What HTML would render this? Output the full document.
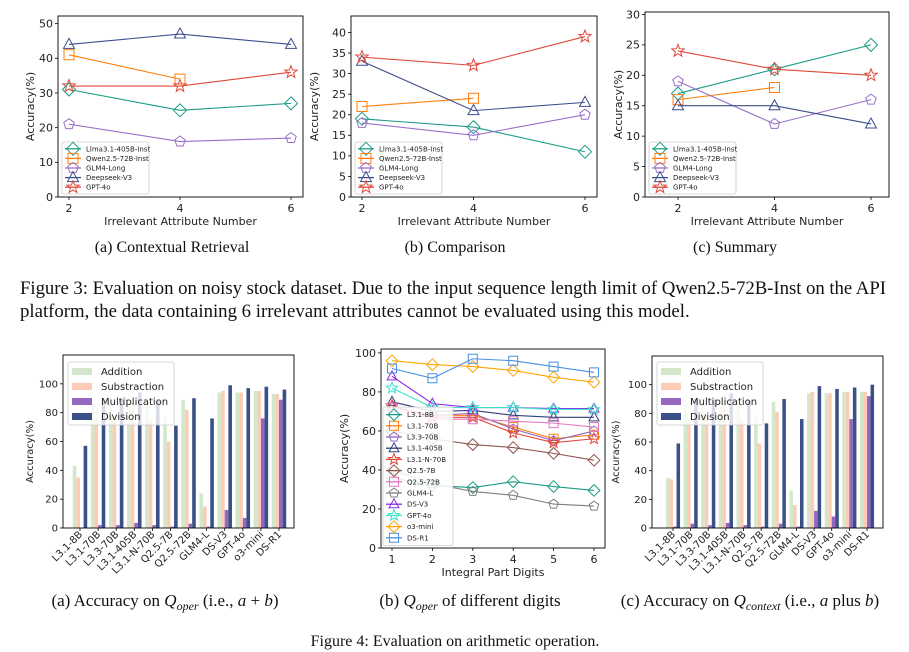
<!DOCTYPE html>
<html><head><meta charset="utf-8"><style>
body{margin:0;background:#fff}
svg{display:block}
text{font-family:"DejaVu Sans","Liberation Sans",sans-serif;fill:#222}
.cap{font-family:"Liberation Serif",serif;font-size:16px;fill:#111}
.cap3{font-family:"Liberation Serif",serif;font-size:18.8px;fill:#111}
.cap4{font-family:"Liberation Serif",serif;font-size:17px;fill:#111}
</style></head><body>
<svg id="s" width="909" height="652" viewBox="0 0 909 652">
<text class="cap" x="172" y="252" text-anchor="middle">(a) Contextual Retrieval</text>
<text class="cap" x="455" y="252" text-anchor="middle">(b) Comparison</text>
<text class="cap" x="735" y="252" text-anchor="middle">(c) Summary</text>
<text class="cap3" x="20" y="294" textLength="866" lengthAdjust="spacing">Figure 3: Evaluation on noisy stock dataset. Due to the input sequence length limit of Qwen2.5-72B-Inst on the API</text>
<text class="cap3" x="20" y="317">platform, the data containing 6 irrelevant attributes cannot be evaluated using this model.</text>
<text class="cap4" x="165" y="606" text-anchor="middle">(a) Accuracy on <tspan font-style="italic">Q</tspan><tspan font-size="12" dy="4" font-style="italic">oper</tspan><tspan dy="-4"> (i.e., </tspan><tspan font-style="italic">a</tspan> + <tspan font-style="italic">b</tspan>)</text>
<text class="cap4" x="470" y="606" text-anchor="middle">(b)  <tspan font-style="italic">Q</tspan><tspan font-size="12" dy="4" font-style="italic">oper</tspan><tspan dy="-4"> of different digits</tspan></text>
<text class="cap4" x="750" y="606" text-anchor="middle">(c) Accuracy on <tspan font-style="italic">Q</tspan><tspan font-size="12" dy="4" font-style="italic">context</tspan><tspan dy="-4"> (i.e., </tspan><tspan font-style="italic">a</tspan> plus <tspan font-style="italic">b</tspan>)</text>
<text class="cap" x="455" y="646" text-anchor="middle">Figure 4: Evaluation on arithmetic operation.</text>
</svg>
<script>
// ---- Figure 3 data ----
const topX = [2, 4, 6];
const topNames = ["Llma3.1-405B-Inst","Qwen2.5-72B-Inst","GLM4-Long","Deepseek-V3","GPT-4o"];
const retLlama = [31, 25, 27];
const retQwen = [41, 34];
const retGLM = [21, 16, 17];
const retDS = [44, 47, 44];
const retGPT = [32, 32, 36];
const cmpLlama = [19, 17, 11];
const cmpQwen = [22, 24];
const cmpGLM = [18, 15, 20];
const cmpDS = [33, 21, 23];
const cmpGPT = [34, 32, 39];
const sumLlama = [17, 21, 25];
const sumQwen = [16, 18];
const sumGLM = [19, 12, 16];
const sumDS = [15, 15, 12];
const sumGPT = [24, 21, 20];
const retTicks = [0, 10, 20, 30, 40, 50];
const cmpTicks = [0, 5, 10, 15, 20, 25, 30, 35, 40];
const sumTicks = [0, 5, 10, 15, 20, 25, 30];
// ---- Figure 4 data ----
const barCats = ["L3.1-8B","L3.1-70B","L3.3-70B","L3.1-405B","L3.1-N-70B","Q2.5-7B","Q2.5-72B","GLM4-L","DS-V3","GPT-4o","o3-mini","DS-R1"];
const barSeries = ["Addition","Substraction","Multiplication","Division"];
const operAdd = [43, 87, 86, 85, 85, 77, 89, 24, 94, 94, 95, 93];
const operSub = [35, 77, 77, 87, 75, 60, 82, 15, 95, 94, 95, 93];
const operMul = [0, 2, 2, 3.5, 2, 1, 3, 1, 12.5, 7, 76, 89];
const operDiv = [57, 89, 89, 94, 88, 71, 90, 76, 99, 97, 98, 96];
const ctxAdd = [35, 87, 86, 85, 85, 79, 88, 26, 94, 94, 95, 95];
const ctxSub = [34, 76, 77, 87, 75, 59, 81, 16, 95, 94, 95, 95];
const ctxMul = [1, 3, 2, 3.5, 2, 1, 3, 1, 12, 8, 76, 92];
const ctxDiv = [59, 90, 89, 94, 89, 73, 90, 76, 99, 97, 98, 100];
const barTicks = [0, 20, 40, 60, 80, 100];
const digitX = [1, 2, 3, 4, 5, 6];
const digitNames = ["L3.1-8B","L3.1-70B","L3.3-70B","L3.1-405B","L3.1-N-70B","Q2.5-7B","Q2.5-72B","GLM4-L","DS-V3","GPT-4o","o3-mini","DS-R1"];
const dL318 = [36, 32, 31, 34, 31.5, 29.5];
const dL3170 = [72, 68, 68, 62, 56, 58];
const dL3370 = [72, 68, 69, 61, 55, 60];
const dL31405 = [75, 70, 70.5, 68, 67, 67];
const dL31N70 = [73, 67, 67, 59, 54, 56];
const dQ7 = [60, 56, 53, 51.5, 48.5, 45];
const dQ72 = [72, 66, 66, 65, 64, 62];
const dGLM = [40, 33, 29, 27, 22.5, 21.5];
const dDSV3 = [88, 74, 72, 72, 71.5, 71.5];
const dGPT = [82, 72, 72, 72, 71, 71];
const dO3 = [96, 94, 93, 91, 87.5, 85];
const dDSR1 = [92, 87, 97, 96, 93, 90];
const digitTicks = [0, 20, 40, 60, 80, 100];

const NS = "http://www.w3.org/2000/svg";
const svg = document.getElementById("s");
function mk(tag, attrs, parent) {
  const e = document.createElementNS(NS, tag);
  for (const k in attrs) e.setAttribute(k, attrs[k]);
  (parent || svg).appendChild(e);
  return e;
}
function marker(g, shape, x, y, r, color) {
  let pts = [];
  if (shape === "diamond") pts = [[0,-r*1.3],[r*1.3,0],[0,r*1.3],[-r*1.3,0]];
  else if (shape === "square") pts = [[-r,-r],[r,-r],[r,r],[-r,r]];
  else if (shape === "triangle") pts = [[0,-r*1.2],[r*1.1,r*0.8],[-r*1.1,r*0.8]];
  else if (shape === "pentagon") { for (let i=0;i<5;i++){const a=-Math.PI/2+i*2*Math.PI/5; pts.push([r*1.1*Math.cos(a), r*1.1*Math.sin(a)]);} }
  else if (shape === "star") { for (let i=0;i<10;i++){const a=-Math.PI/2+i*Math.PI/5; const rr=i%2?r*0.55:r*1.3; pts.push([rr*Math.cos(a), rr*Math.sin(a)]);} }
  const p = mk("polygon", {points: pts.map(q=>(x+q[0]).toFixed(1)+","+(y+q[1]).toFixed(1)).join(" "), fill:"none", stroke:color, "stroke-width":1}, g);
  return p;
}
function axesFrame(g, L, R, T, B, yTicks, yfn, fs) {
  mk("rect", {x:L, y:T, width:R-L, height:B-T, fill:"none", stroke:"#000", "stroke-width":0.9}, g);
  yTicks.forEach(v => {
    const y = yfn(v);
    mk("line", {x1:L-3, x2:L, y1:y, y2:y, stroke:"#000", "stroke-width":0.8}, g);
    const t = mk("text", {x:L-5, y:y+fs*0.35, "text-anchor":"end", "font-size":fs}, g);
    t.textContent = v;
  });
}
function lineChart(cfg) {
  const g = mk("g", {});
  
  
  const {L,R,T,B,yMax} = cfg;
  const xfn = v => cfg.x0 + (v - cfg.xs[0]) / (cfg.xs[cfg.xs.length-1]-cfg.xs[0]) * (cfg.x1 - cfg.x0);
  const yfn = v => B - v / yMax * (B - T);
  axesFrame(g, L, R, T, B, cfg.yTicks, yfn, cfg.fs);
  cfg.xs.forEach(v => {
    const x = xfn(v);
    mk("line", {x1:x, x2:x, y1:B, y2:B+3, stroke:"#000", "stroke-width":0.8}, g);
    const t = mk("text", {x:x, y:B+4+cfg.fs, "text-anchor":"middle", "font-size":cfg.fs}, g);
    t.textContent = v;
  });
  const xt = mk("text", {x:(L+R)/2, y:B+cfg.xtOff, "text-anchor":"middle", "font-size":cfg.fs}, g);
  xt.textContent = cfg.xTitle;
  
  
  const yt = mk("text", {x:0, y:0, "text-anchor":"middle", "font-size":cfg.fs, transform:`translate(${cfg.ytX},${(T+B)/2}) rotate(-90)`}, g);
  yt.textContent = "Accuracy(%)";
  
  
  cfg.series.forEach((s, i) => {
    const sg = mk("g", {}, g);
    
    
    const pts = s.vals.map((v,j) => [xfn(cfg.xs[j]), yfn(v)]);
    mk("polyline", {points: pts.map(p=>p.join(",")).join(" "), fill:"none", stroke:s.color, "stroke-width":1.1}, sg);
    pts.forEach(p => marker(sg, s.shape, p[0], p[1], cfg.mr, s.color));
  });
  const lg = mk("g", {}, g);
  
  
  const lgB = cfg.legend;
  mk("rect", {x:lgB.x, y:lgB.y, width:lgB.w, height:lgB.step*cfg.series.length+4, rx:2, fill:"#fff", "fill-opacity":0.85, stroke:"#ccc", "stroke-width":0.8}, lg);
  cfg.series.forEach((s,i) => {
    const ey = lgB.y + 2 + lgB.step*(i+0.5);
    const eg = mk("g", {}, lg);
    
    
    mk("line", {x1:lgB.x+3, x2:lgB.x+19, y1:ey, y2:ey, stroke:s.color, "stroke-width":1.3}, eg);
    marker(eg, s.shape, lgB.x+11, ey, cfg.mr, s.color);
    const t = mk("text", {x:lgB.x+24, y:ey+2.5, "font-size":lgB.fs}, eg);
    t.textContent = cfg.names[i];
  });
}
function barChart(cfg) {
  const g = mk("g", {});
  
  
  const {L,R,T,B,yMax} = cfg;
  const yfn = v => B - v / yMax * (B - T);
  const step = (cfg.x1 - cfg.x0) / (barCats.length - 1);
  const xfn = i => cfg.x0 + i * step;
  const bw = step * 0.8 / 4;
  const colors = ["#d3e7cb","#fcccb6","#9467c0","#3a5088"];
  cfg.vals.forEach((arr, si) => {
    arr.forEach((v, i) => {
      const x = xfn(i) - 2*bw + si*bw;
      const r = mk("rect", {x:x.toFixed(2), y:yfn(v), width:bw.toFixed(2), height:B - yfn(v), fill:colors[si]}, g);
      
      
    });
  });
  axesFrame(g, L, R, T, B, barTicks, yfn, cfg.fs);
  barCats.forEach((c, i) => {
    const x = xfn(i);
    mk("line", {x1:x, x2:x, y1:B, y2:B+3, stroke:"#000", "stroke-width":0.8}, g);
    const t = mk("text", {x:0, y:0, "text-anchor":"end", "font-size":cfg.fs, transform:`translate(${x+3},${B+7}) rotate(-45)`}, g);
    t.textContent = c;
  });
  const yt = mk("text", {x:0, y:0, "text-anchor":"middle", "font-size":cfg.fs, transform:`translate(${cfg.ytX},${(T+B)/2+10}) rotate(-90)`}, g);
  yt.textContent = "Accuracy(%)";
  
  
  const lg = mk("g", {}, g);
  
  
  const lb = cfg.legend;
  mk("rect", {x:lb.x, y:lb.y, width:lb.w, height:63, rx:2, fill:"#fff", "fill-opacity":0.8, stroke:"#ccc", "stroke-width":0.8}, lg);
  barSeries.forEach((n, i) => {
    const ey = lb.y + 9 + i*15;
    mk("rect", {x:lb.x+4, y:ey-3, width:20, height:7, fill:colors[i]}, lg);
    const t = mk("text", {x:lb.x+33, y:ey+4, "font-size":cfg.fs}, lg);
    t.textContent = n;
  });
}
const C = {teal:"#1a9c86", orange:"#ff7f0e", purple:"#9a6fc9", navy:"#3c4f8c", red:"#e0483a"};
function topSeries(a,b,c,d,e){return [
  {vals:a, color:C.teal, shape:"diamond"},
  {vals:b, color:C.orange, shape:"square"},
  {vals:c, color:C.purple, shape:"pentagon"},
  {vals:d, color:C.navy, shape:"triangle"},
  {vals:e, color:C.red, shape:"star"}];}
lineChart({name:"chart-contextual-retrieval", L:58, R:303, T:16, B:197, yMax:52.2, xs:topX, x0:69, x1:291, yTicks:retTicks, fs:11, mr:5, xTitle:"Irrelevant Attribute Number", xtOff:28, ytX:34, names:topNames,
  series:topSeries(retLlama,retQwen,retGLM,retDS,retGPT), legend:{x:62, y:142, w:87, step:9.6, fs:7}});
lineChart({name:"chart-comparison", L:351, R:597, T:16, B:197, yMax:44, xs:topX, x0:362, x1:585, yTicks:cmpTicks, fs:11, mr:5, xTitle:"Irrelevant Attribute Number", xtOff:28, ytX:318, names:topNames,
  series:topSeries(cmpLlama,cmpQwen,cmpGLM,cmpDS,cmpGPT), legend:{x:355, y:142, w:87, step:9.6, fs:7}});
lineChart({name:"chart-summary", L:645, R:889, T:12, B:197, yMax:30.4, xs:topX, x0:678, x1:871, yTicks:sumTicks, fs:11, mr:5, xTitle:"Irrelevant Attribute Number", xtOff:28, ytX:622, names:topNames,
  series:topSeries(sumLlama,sumQwen,sumGLM,sumDS,sumGPT), legend:{x:649, y:142, w:87, step:9.6, fs:7}});
barChart({name:"chart-oper-accuracy", L:63, R:294, T:355, B:528, yMax:120, x0:80, x1:279, fs:10, ytX:33, vals:[operAdd,operSub,operMul,operDiv], legend:{x:68, y:362, w:106}});
barChart({name:"chart-context-accuracy", L:652, R:883, T:356, B:528, yMax:120, x0:673, x1:867, fs:10, ytX:619, vals:[ctxAdd,ctxSub,ctxMul,ctxDiv], legend:{x:657, y:362, w:106}});
lineChart({name:"chart-oper-digits", L:381, R:605, T:349, B:548, yMax:102, xs:digitX, x0:392, x1:594, yTicks:digitTicks, fs:11, mr:4.5, xTitle:"Integral Part Digits", xtOff:28, ytX:348, names:digitNames,
  series:[
    {vals:dL318, color:"#1a9c86", shape:"diamond"},
    {vals:dL3170, color:"#ff7f0e", shape:"square"},
    {vals:dL3370, color:"#9467bd", shape:"pentagon"},
    {vals:dL31405, color:"#2f3f7a", shape:"triangle"},
    {vals:dL31N70, color:"#e0483a", shape:"star"},
    {vals:dQ7, color:"#8c564b", shape:"diamond"},
    {vals:dQ72, color:"#e377c2", shape:"square"},
    {vals:dGLM, color:"#7f7f7f", shape:"pentagon"},
    {vals:dDSV3, color:"#8a2be2", shape:"triangle"},
    {vals:dGPT, color:"#40e0d0", shape:"star"},
    {vals:dO3, color:"#ffa500", shape:"diamond"},
    {vals:dDSR1, color:"#4a90e2", shape:"square"}],
  legend:{x:383, y:407, w:70, step:11.2, fs:7}});
</script>
</body></html>
